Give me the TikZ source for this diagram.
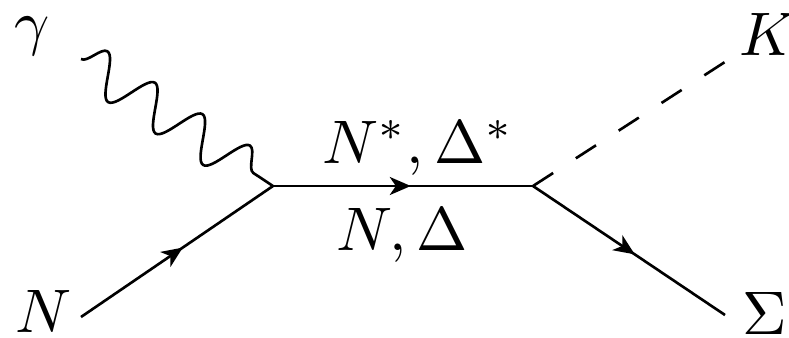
\documentclass[tikz,border=0pt]{standalone}
\usetikzlibrary{arrows.meta,decorations.pathmorphing,decorations.markings}

\begin{document}
\begin{tikzpicture}[
  fermline/.style={line width=1.5pt,postaction={decorate},
    decoration={markings,mark=at position 0.53 with
      {\arrow{Stealth[length=4.2mm,width=3.6mm,inset=1.2mm]}}}},
  photonline/.style={line width=1.5pt,decorate,
    decoration={snake,amplitude=4.2mm,segment length=11.4mm}},
  kaonline/.style={line width=1.5pt,dash pattern=on 4.8mm off 5.4mm},
  lbl/.style={scale=3.5,inner sep=0pt,anchor=base}
]
  \useasboundingbox (0,0) rectangle (15.78,6.74);

  % Vertices and external legs
  \coordinate (v1) at (5.46,3.02);
  \coordinate (v2) at (10.66,3.02);
  \coordinate (nin) at (1.62,0.40);
  \coordinate (gin) at (1.62,5.56);
  \coordinate (kout) at (14.56,5.54);
  \coordinate (sout) at (14.50,0.44);

  % Labels
  \node[lbl] (lgam) at (0.64,5.88) {$\gamma$};
  \node[lbl] (lnuc) at (0.88,0.10) {$N$};
  \node[lbl] (lkao) at (15.36,5.64) {$K$};
  \node[lbl] (lsig) at (15.30,0.06) {$\Sigma$};
  \node[lbl] (lres) at (8.36,3.48) {$N^*,\Delta^*$};
  \node[lbl] (lbor) at (8.04,1.74) {$N,\Delta$};

  % Lines
  \draw[photonline] (gin) -- (v1);
  \draw[fermline] (nin) -- (v1);
  \draw[fermline] (v1) -- (v2);
  \draw[fermline] (v2) -- (sout);
  \draw[kaonline] (v2) -- (kout);
\end{tikzpicture}
\end{document}
